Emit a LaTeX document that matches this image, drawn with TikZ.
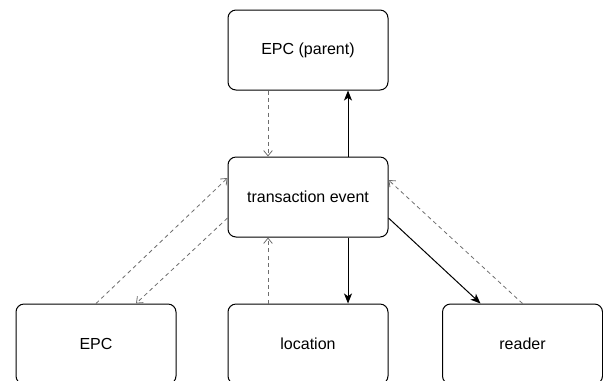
\documentclass[tikz,border=0pt]{standalone}
\usepackage{fontspec}
\setmainfont{Liberation Sans}
\usetikzlibrary{arrows.meta, calc}

\tikzset{
  entity/.style={draw, rounded corners=6pt, line width=0.75pt, minimum width=120pt, minimum height=60pt, inner sep=0pt, font=\fontsize{12}{14}\selectfont},
  rel/.style={line width=0.75pt, -{Stealth[length=7.5pt, width=6pt, inset=2pt]}},
  ref/.style={color={rgb, 255:red, 110; green, 110; blue, 110}, line width=0.6pt, dash pattern=on 3pt off 2.5pt, -{Straight Barb[length=4pt, width=6.5pt]}}
}

\begin{document}
\begin{tikzpicture}[x=0.75pt,y=0.75pt,yscale=-1,xscale=1]
\useasboundingbox (0,0) rectangle (603,380);

% Boxes
\node [entity] (parent) at (308,50) {EPC (parent)};
\node [entity] (event) at (308,197) {transaction event};
\node [entity] (epc) at (96,344) {EPC};
\node [entity] (location) at (308,344) {location};
\node [entity] (reader) at (522.5,344) {reader};

% event -> parent / location / reader
\draw [rel] ($(event.north)+(40,0)$) -- ($(parent.south)+(40,0)$);
\draw [rel] ($(event.south)+(40,0)$) -- ($(location.north)+(40,0)$);
\draw [rel] ($(event.east)+(0,21)$) -- ($(reader.north)+(-42,0)$);

% dashed back references
\draw [ref] ($(parent.south)+(-40,0)$) -- ($(event.north)+(-40,0)$);
\draw [ref] ($(location.north)+(-40,0)$) -- ($(event.south)+(-40,0)$);
\draw [ref] (epc.north) -- ($(event.west)+(0,-19)$);
\draw [ref] ($(event.west)+(0,21)$) -- ($(epc.north)+(40,0)$);
\draw [ref] ($(reader.north)+(0,0)$) -- ($(event.east)+(0,-17)$);

\end{tikzpicture}
\end{document}
